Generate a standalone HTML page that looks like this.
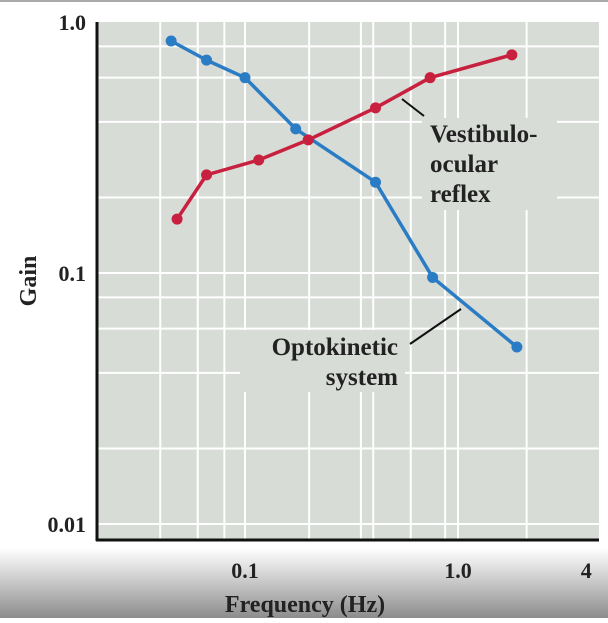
<!DOCTYPE html>
<html><head><meta charset="utf-8">
<style>
html,body{margin:0;padding:0;background:#fff;}
body{width:608px;height:618px;overflow:hidden;position:relative;font-family:"Liberation Serif",serif;}
</style></head>
<body>
<svg id="chart" width="608" height="618" viewBox="0 0 608 618" xmlns="http://www.w3.org/2000/svg">
<defs>
<linearGradient id="band" x1="0" y1="0" x2="0" y2="1">
<stop offset="0" stop-color="#ffffff"/><stop offset="0.35" stop-color="#d8d8d8"/><stop offset="1" stop-color="#8c8c8c"/>
</linearGradient>
</defs>
<rect x="0" y="0" width="608" height="618" fill="#fff"/>
<rect x="0" y="0" width="608" height="2" fill="#aaa"/>
<rect x="97" y="22" width="502" height="518" fill="#d8dcd7"/>
<g id="grid"></g>
<g id="labelboxes"></g>
<g id="series"></g>
<line x1="97" y1="22" x2="97" y2="541" stroke="#111" stroke-width="3"/>
<line x1="96" y1="540" x2="599" y2="540" stroke="#111" stroke-width="3"/>
<rect x="0" y="548" width="608" height="70" fill="url(#band)"/>
<g id="ticks" font-family="Liberation Serif, serif" font-size="22" font-weight="bold" fill="#222"></g>
<text x="305" y="612" font-size="24" font-weight="bold" text-anchor="middle" fill="#222" font-family="Liberation Serif, serif">Frequency (Hz)</text>
<text transform="translate(36,281) rotate(-90)" font-size="24" font-weight="bold" text-anchor="middle" fill="#222" font-family="Liberation Serif, serif">Gain</text>
<line x1="402" y1="99" x2="424" y2="116" stroke="#111" stroke-width="2"/>
<text font-size="25" font-weight="bold" fill="#222"><tspan x="430" y="142">Vestibulo-</tspan><tspan x="430" y="172">ocular</tspan><tspan x="430" y="202">reflex</tspan></text>
<line x1="410" y1="344" x2="461" y2="309" stroke="#111" stroke-width="2"/>
<text font-size="25" font-weight="bold" fill="#222" text-anchor="end"><tspan x="398" y="355">Optokinetic</tspan><tspan x="398" y="385">system</tspan></text>
</svg>
<script>
const vorFreq=[0.048,0.066,0.116,0.198,0.41,0.74,1.79];
const vorGain=[0.164,0.246,0.282,0.339,0.455,0.60,0.74];
const oknFreq=[0.045,0.066,0.1,0.173,0.41,0.76,1.89];
const oknGain=[0.84,0.705,0.60,0.375,0.23,0.096,0.0507];
const xGrid=[0.04,0.06,0.08,0.1,0.2,0.35,0.4,0.6,0.87,1.0,2.1];
const yGrid=[0.8,0.6,0.4,0.2,0.1,0.08,0.06,0.04,0.02,0.01];
const xTickVals=[0.1,1.0,4];
const xTickLabels=["0.1","1.0","4"];
const yTickVals=[1.0,0.1,0.01];
const yTickLabels=["1.0","0.1","0.01"];
const NS='http://www.w3.org/2000/svg';
function xs(f){return 458+213*Math.log10(f);}
function ys(g){return 22-251*Math.log10(g);}
function mk(t,a,p){const e=document.createElementNS(NS,t);for(const k in a)e.setAttribute(k,a[k]);p.appendChild(e);return e;}
const grid=document.getElementById('grid');
xGrid.forEach(v=>{const l=mk('line',{x1:xs(v),x2:xs(v),y1:22,y2:540,stroke:'#fff','stroke-width':2},grid);

});
yGrid.forEach(v=>{const l=mk('line',{x1:97,x2:599,y1:ys(v),y2:ys(v),stroke:'#fff','stroke-width':2},grid);

});
const lb=document.getElementById('labelboxes');
mk('rect',{x:422,y:118,width:135,height:92,fill:'#d8dcd7'},lb);
mk('rect',{x:240,y:330,width:165,height:62,fill:'#d8dcd7'},lb);
const ser=document.getElementById('series');
function draw(fx,gy,col,name){
const g=mk('g',{},ser);


const pts=fx.map((f,i)=>xs(f)+','+ys(gy[i])).join(' ');
const pl=mk('polyline',{points:pts,fill:'none',stroke:col,'stroke-width':3.5,'stroke-linejoin':'round'},g);


fx.forEach((f,i)=>{const c=mk('circle',{cx:xs(f),cy:ys(gy[i]),r:5.5,fill:col},g);

});
}
draw(oknFreq,oknGain,'#2a7cc4','optokinetic-series');
draw(vorFreq,vorGain,'#c8203f','vor-series');
const tk=document.getElementById('ticks');
xTickVals.forEach((v,i)=>{const t=mk('text',{x:xs(v),y:578,'text-anchor':'middle'},tk);t.textContent=xTickLabels[i];

});
yTickVals.forEach((v,i)=>{const t=mk('text',{x:86,y:ys(v)+8,'text-anchor':'end'},tk);t.textContent=yTickLabels[i];

});
</script>
</body></html>
